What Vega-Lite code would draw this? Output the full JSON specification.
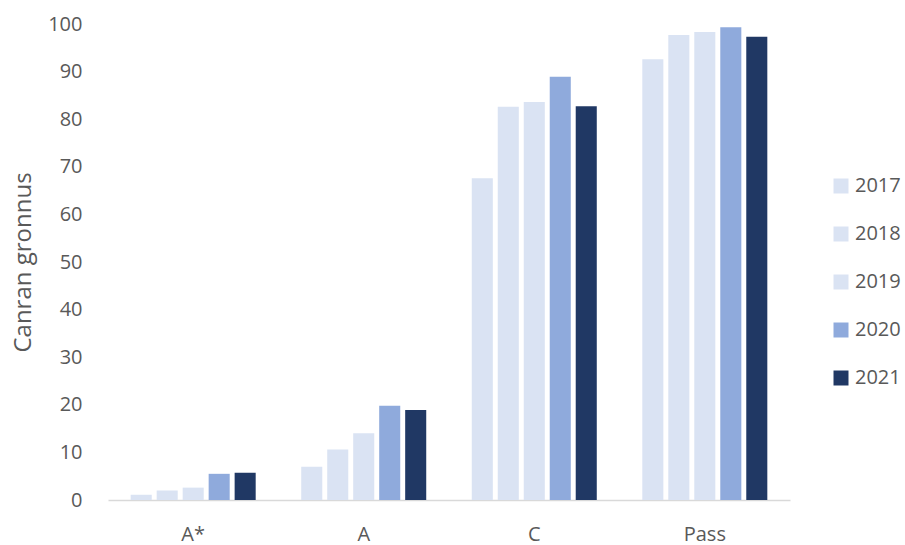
{
  "$schema": "https://vega.github.io/schema/vega-lite/v6.json",
  "width": 682,
  "height": 476,
  "autosize": {"type": "none"},
  "padding": {"left": 108, "top": 24, "right": 115, "bottom": 45},
  "background": "white",
  "config": {
    "view": {"stroke": null},
    "font": "Open Sans",
    "axis": {"labelColor": "#595959", "titleColor": "#595959", "labelFont": "Open Sans", "titleFont": "Open Sans"},
    "legend": {"labelFont": "Open Sans"}
  },
  "data": {
    "values": [
      {"grade": "A*", "year": "2017", "value": 1.1},
      {"grade": "A*", "year": "2018", "value": 2.0},
      {"grade": "A*", "year": "2019", "value": 2.6},
      {"grade": "A*", "year": "2020", "value": 5.5},
      {"grade": "A*", "year": "2021", "value": 5.7},
      {"grade": "A", "year": "2017", "value": 7.0},
      {"grade": "A", "year": "2018", "value": 10.6},
      {"grade": "A", "year": "2019", "value": 14.0},
      {"grade": "A", "year": "2020", "value": 19.8},
      {"grade": "A", "year": "2021", "value": 18.9},
      {"grade": "C", "year": "2017", "value": 67.6},
      {"grade": "C", "year": "2018", "value": 82.6},
      {"grade": "C", "year": "2019", "value": 83.6},
      {"grade": "C", "year": "2020", "value": 88.9},
      {"grade": "C", "year": "2021", "value": 82.7},
      {"grade": "Pass", "year": "2017", "value": 92.6},
      {"grade": "Pass", "year": "2018", "value": 97.7},
      {"grade": "Pass", "year": "2019", "value": 98.3},
      {"grade": "Pass", "year": "2020", "value": 99.3},
      {"grade": "Pass", "year": "2021", "value": 97.3}
    ]
  },
  "mark": {"type": "bar"},
  "encoding": {
    "x": {
      "field": "grade", "type": "nominal", "sort": ["A*", "A", "C", "Pass"],
      "scale": {"paddingInner": 0.267, "paddingOuter": 0.133},
      "axis": {"title": null, "labelAngle": 0, "ticks": false, "labelPadding": 24, "labelFontSize": 20, "domainColor": "#D9D9D9", "domainWidth": 1.5}
    },
    "xOffset": {
      "field": "year", "type": "nominal",
      "scale": {"paddingInner": 0.19, "paddingOuter": 0}
    },
    "y": {
      "field": "value", "type": "quantitative",
      "scale": {"domain": [0, 100], "nice": false},
      "axis": {"title": "Canran gronnus", "titleFontSize": 24, "titleFontWeight": "normal", "titlePadding": 12, "labelFontSize": 20, "labelPadding": 26, "ticks": false, "domain": false, "grid": false, "values": [0,10,20,30,40,50,60,70,80,90,100]}
    },
    "color": {
      "field": "year", "type": "nominal",
      "scale": {"domain": ["2017", "2018", "2019", "2020", "2021"], "range": ["#DAE3F3", "#DAE3F3", "#DAE3F3", "#8FAADC", "#203864"]},
      "legend": {"title": null, "orient": "none", "legendX": 723, "legendY": 152, "symbolType": "square", "symbolSize": 225, "symbolStrokeWidth": 0, "labelFontSize": 20, "labelColor": "#595959", "rowPadding": 28, "labelOffset": 4}
    }
  }
}
